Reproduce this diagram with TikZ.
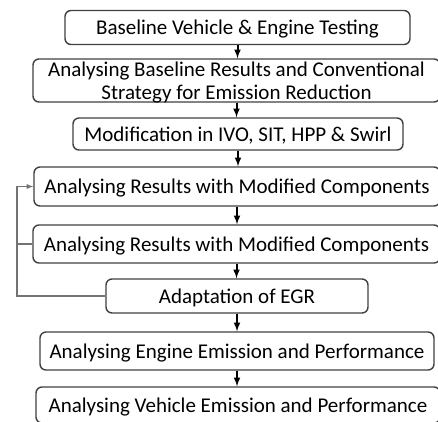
\documentclass[tikz,border=0pt]{standalone}
\usepackage{fontspec}
\setmainfont{Carlito}
\begin{document}
\begin{tikzpicture}
  [x=1pt, y=1pt]
  \tikzstyle{box} = [draw=black!75, line width=1.4pt, rounded corners=6pt, inner sep=0pt,
                     font=\fontsize{21}{23}\selectfont, align=center,
                     text height=16pt, text depth=2pt];
  \tikzstyle{flow} = [draw=black, line width=2pt, -latex];
  \tikzstyle{back} = [draw=black!55, line width=1.3pt];

  \useasboundingbox (0, 0) rectangle (438, -421);

  \node[box, minimum width=345pt, minimum height=34pt] (test)     at (237.5, -27.5) {Baseline Vehicle \& Engine Testing};
  \node[box, minimum width=407pt, minimum height=43pt, text height=39pt, text depth=1pt] (baseline) at (236.5, -80.5) {Analysing Baseline Results and Conventional\\Strategy for Emission Reduction};
  \node[box, minimum width=330pt, minimum height=32pt] (modif)    at (238, -134) {Modification in IVO, SIT, HPP \& Swirl};
  \node[box, minimum width=406pt, minimum height=39pt] (res1)     at (237, -186.5) {Analysing Results with Modified Components};
  \node[box, minimum width=407pt, minimum height=38pt] (res2)     at (236.5, -244) {Analysing Results with Modified Components};
  \node[box, minimum width=262pt, minimum height=34pt] (egr)      at (237, -296) {Adaptation of EGR};
  \node[box, minimum width=394pt, minimum height=38pt] (engine)   at (237, -351) {Analysing Engine Emission and Performance};
  \node[box, minimum width=404pt, minimum height=36pt] (vehicle)  at (238, -405) {Analysing Vehicle Emission and Performance};

  \coordinate (side) at (17, 0);

  \draw[flow] (test.south)     -- (test.south |- baseline.north);
  \draw[flow] (baseline.south) -- (baseline.south |- modif.north);
  \draw[flow] (modif.south)    -- (modif.south |- res1.north);
  \draw[flow] (res1.south)     -- (res1.south |- res2.north);
  \draw[flow] (res2.south)     -- (res2.south |- egr.north);
  \draw[flow] (egr.south)      -- (egr.south |- engine.north);
  \draw[flow] (engine.south)   -- (engine.south |- vehicle.north);

  \draw[back, -latex] (egr.west) -- (egr.west -| side) |- (res1.west);
  \draw[back] (res2.west) -- (res2.west -| side);

\end{tikzpicture}
\end{document}
